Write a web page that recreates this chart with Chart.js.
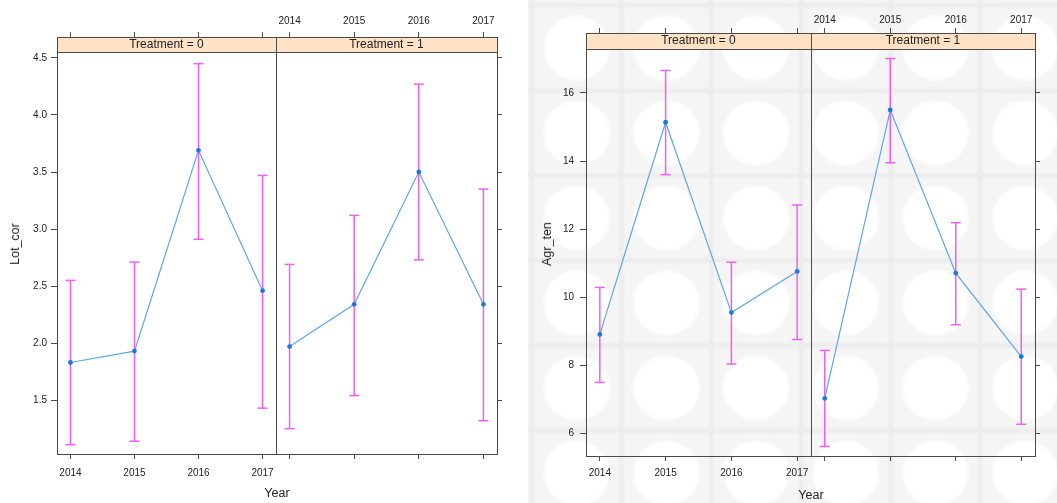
<!DOCTYPE html>
<html>
<head>
<meta charset="utf-8">
<script src="https://cdn.jsdelivr.net/npm/chart.js@4.4.1/dist/chart.umd.min.js"></script>
<style>
  body { margin: 0; width: 1057px; height: 503px; position: relative; background: #fff; overflow: hidden; }
  canvas { position: absolute; top: 0; }
  #bg2 {
    position: absolute; left: 528px; top: 0; width: 529px; height: 503px;
    background-color: #f5f5f5;
    background-image:
      radial-gradient(ellipse 35px 34px at 50% 50%, #fff 0, #fff 88%, rgba(255,255,255,0) 100%),
      linear-gradient(90deg, #ebebeb 0, rgba(245,245,245,0) 4px, rgba(245,245,245,0) calc(100% - 4px), #ebebeb 100%),
      linear-gradient(180deg, #ebebeb 0, rgba(245,245,245,0) 4px, rgba(245,245,245,0) calc(100% - 4px), #ebebeb 100%);
    background-size: 89.7px 85px;
    background-position: 3.9px 5.5px;
  }
  .lab { position: absolute; font: 12.5px "Liberation Sans", Arial, sans-serif; color: #222; white-space: nowrap; transform: translate(-50%, -50%); }
  .ylab { transform: translate(-50%, -50%) rotate(-90deg); }
</style>
</head>
<body>
<div id="bg2"></div>
<canvas id="lotA" width="277" height="503" style="left:0px"></canvas>
<canvas id="lotB" width="229" height="503" style="left:276px"></canvas>
<canvas id="agrA" width="282" height="503" style="left:530px"></canvas>
<canvas id="agrB" width="232" height="503" style="left:811px"></canvas>
<div class="lab ylab" style="left:15px; top:244px">Lot_cor</div>
<div class="lab" style="left:277px; top:493px">Year</div>
<div class="lab ylab" style="left:547px; top:244px">Agr_ten</div>
<div class="lab" style="left:811px; top:495px">Year</div>
<script>
// x values and tick labels shared by all panels
const years = [2014, 2015, 2016, 2017];
const yearTicks = [2014, 2015, 2016, 2017];
const strips = ["Treatment = 0", "Treatment = 1"];

// Lot_cor: mean and interval per year
const lotMean0 = [1.83, 1.93, 3.69, 2.46];
const lotLow0  = [1.11, 1.14, 2.91, 1.43];
const lotHigh0 = [2.55, 2.71, 4.45, 3.47];
const lotMean1 = [1.97, 2.34, 3.50, 2.34];
const lotLow1  = [1.25, 1.54, 2.73, 1.32];
const lotHigh1 = [2.69, 3.12, 4.27, 3.35];
const lotTicks = [1.5, 2.0, 2.5, 3.0, 3.5, 4.0, 4.5];

// Agr_ten
const agrMean0 = [8.91, 15.14, 9.55, 10.76];
const agrLow0  = [7.50, 13.60, 8.04, 8.76];
const agrHigh0 = [10.29, 16.66, 11.03, 12.71];
const agrMean1 = [7.03, 15.50, 10.71, 8.26];
const agrLow1  = [5.62, 13.95, 9.19, 6.27];
const agrHigh1 = [8.44, 17.01, 12.19, 10.24];
const agrTicks = [6, 8, 10, 12, 14, 16];

Chart.defaults.font.family = '"Liberation Sans", Arial, sans-serif';
Chart.defaults.font.size = 10;
Chart.defaults.color = "#222";

const FRAME = "#4a4a4a";
const MAGENTA = "#f060f0";

// strip background + panel frame
const framePlugin = {
  id: "frame",
  beforeDraw(chart) {
    const t = chart.titleBlock, ctx = chart.ctx;
    ctx.save();
    ctx.fillStyle = "#ffe1c6";
    ctx.fillRect(t.left, t.top, t.width, t.height);
    ctx.restore();
  },
  afterDraw(chart) {
    const a = chart.chartArea, t = chart.titleBlock, ctx = chart.ctx;
    const l = Math.round(a.left) + 0.5, r = Math.round(a.right) + 0.5;
    const top = Math.round(t.top) + 0.5, mid = Math.round(a.top) + 0.5, b = Math.round(a.bottom) + 0.5;
    ctx.save();
    ctx.strokeStyle = FRAME;
    ctx.lineWidth = 1;
    ctx.strokeRect(l, top, r - l, b - top);
    ctx.beginPath();
    ctx.moveTo(l, mid);
    ctx.lineTo(r, mid);
    ctx.stroke();
    ctx.restore();
  }
};

function errorPoints(low, high) {
  return years.flatMap((yr, i) => [{ x: yr, y: low[i] }, { x: yr, y: high[i] }, { x: yr, y: null }]);
}

// fix axis size and drop the label overhang padding so panels butt together
function fixed(prop, size) {
  return (scale) => {
    scale[prop] = size;
    scale.paddingLeft = scale.paddingRight = scale.paddingTop = scale.paddingBottom = 0;
  };
}

function xAxis(pos, showLabels, size, pad) {
  return {
    type: "linear", position: pos, min: 2013.79, max: 2017.21,
    afterBuildTicks: (s) => { s.ticks = yearTicks.map((v) => ({ value: v })); },
    afterFit: fixed("height", size),
    border: { display: false },
    grid: { drawOnChartArea: false, tickLength: 5, color: FRAME },
    ticks: { display: showLabels, padding: pad, maxRotation: 0, callback: (v) => String(v) }
  };
}

function panel(id, o) {
  const left = o.side === "left";
  new Chart(document.getElementById(id), {
    type: "line",
    data: {
      datasets: [
        {
          data: years.map((yr, i) => ({ x: yr, y: o.mean[i] })),
          borderColor: "#5ea6e8", borderWidth: 1.2,
          pointRadius: 2.4, pointBackgroundColor: "#1c78e0", pointBorderWidth: 0,
          order: 1
        },
        {
          data: errorPoints(o.low, o.high),
          borderColor: MAGENTA, borderWidth: 1.5, spanGaps: false,
          pointStyle: "line", pointRadius: 5, pointBorderColor: MAGENTA, pointBorderWidth: 1.5,
          order: 2
        }
      ]
    },
    options: {
      responsive: false, animation: false, events: [], devicePixelRatio: 1,
      layout: { autoPadding: false, padding: { left: 0, top: 0, bottom: 0, right: left ? 1 : 0 } },
      scales: {
        x: xAxis("bottom", left, o.bottom, o.padB),
        x2: xAxis("top", !left, o.top, o.padT),
        y: {
          type: "linear", position: o.side, min: o.yMin, max: o.yMax,
          afterBuildTicks: (s) => { s.ticks = o.ticks.map((v) => ({ value: v })); },
          afterFit: fixed("width", left ? o.yWidth : 8),
          border: { display: false },
          grid: { drawOnChartArea: false, tickLength: left ? 6 : 5, color: FRAME },
          ticks: { display: left, padding: o.padY, callback: o.fmt }
        }
      },
      plugins: {
        legend: { display: false },
        tooltip: { enabled: false },
        title: {
          display: true, text: o.strip, position: "top", fullSize: false, weight: -1,
          padding: 0, color: "#222",
          font: { size: 12, weight: "normal", lineHeight: o.stripH + "px" }
        }
      }
    },
    plugins: [framePlugin]
  });
}

const lotBase = { yMin: 1.028, yMax: 4.552, ticks: lotTicks, fmt: (v) => v.toFixed(1),
  top: 37, stripH: 15, bottom: 49, padT: 5, padB: 8, padY: 4, yWidth: 57 };
const agrBase = { yMin: 5.34, yMax: 17.29, ticks: agrTicks, fmt: (v) => String(v),
  top: 33, stripH: 16, bottom: 47, padT: 2, padB: 6, padY: 6, yWidth: 56 };

panel("lotA", { ...lotBase, side: "left", strip: strips[0], mean: lotMean0, low: lotLow0, high: lotHigh0 });
panel("lotB", { ...lotBase, side: "right", strip: strips[1], mean: lotMean1, low: lotLow1, high: lotHigh1 });
panel("agrA", { ...agrBase, side: "left", strip: strips[0], mean: agrMean0, low: agrLow0, high: agrHigh0 });
panel("agrB", { ...agrBase, side: "right", strip: strips[1], mean: agrMean1, low: agrLow1, high: agrHigh1 });
</script>
</body>
</html>
